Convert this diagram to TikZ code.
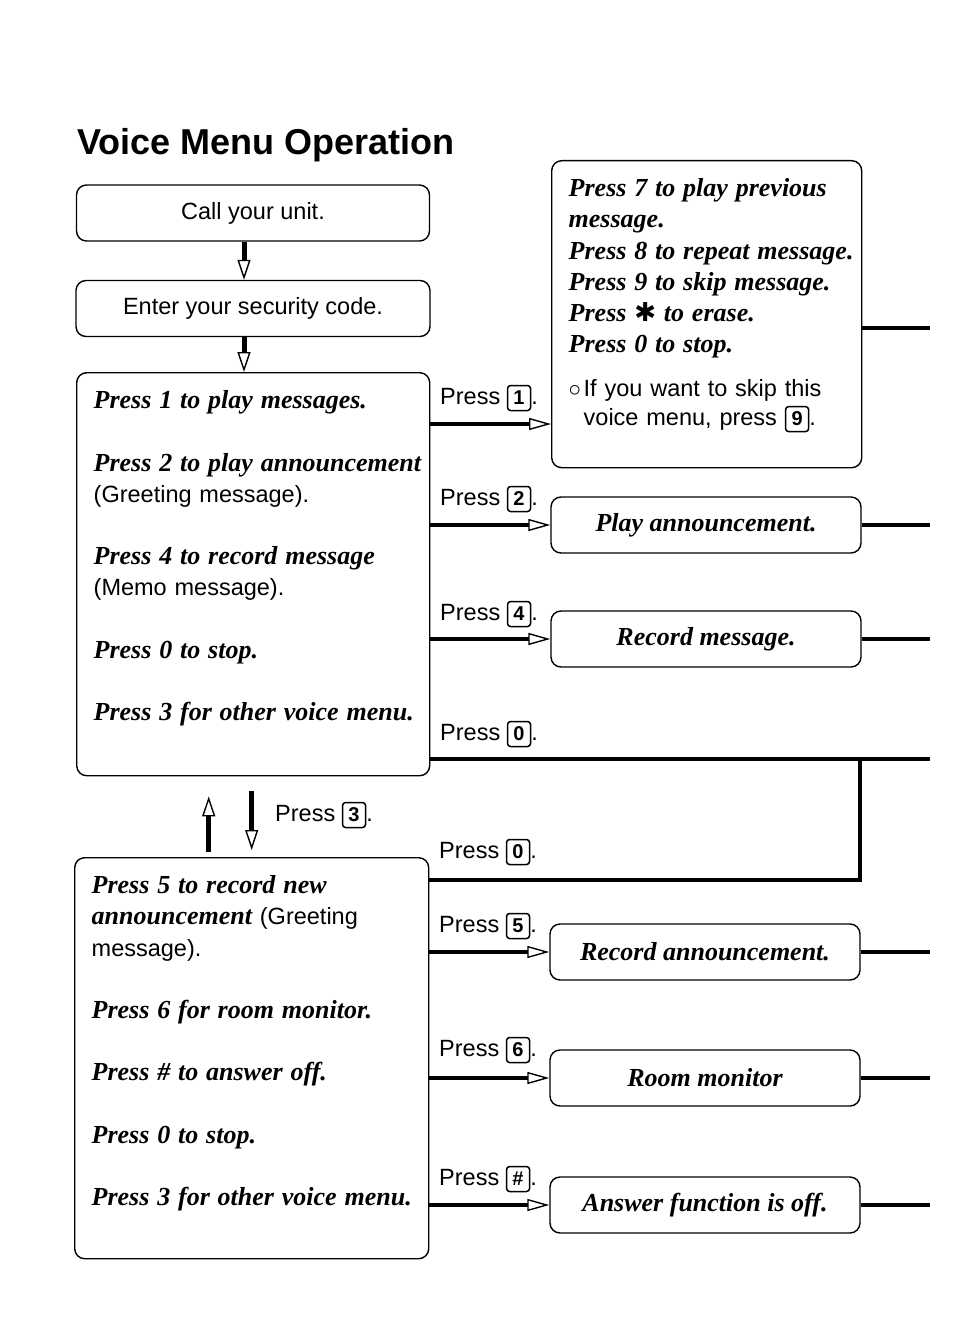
\documentclass[tikz,border=0pt]{standalone}
\usepackage{fontspec}
\setmainfont{Liberation Serif}
\setsansfont{Liberation Sans}
\newfontfamily\symfont{DejaVu Sans}
\usetikzlibrary{positioning,arrows.meta}
\newcommand{\bi}[1]{{\rmfamily\bfseries\itshape\fontsize{26}{31.2}\selectfont #1}}
\newcommand{\keycap}[1]{\tikz[baseline=(kc.base)]\node[draw, line width=1.5pt, rounded corners=3pt, text width={}, text height=15pt, text depth=3pt, inner xsep=3pt, inner ysep=3.5pt, minimum width=23pt, font=\sffamily\bfseries\fontsize{20}{20}\selectfont] (kc) {#1};}
\tikzset{
  flowbox/.style={draw, line width=1.4pt, rounded corners=10pt, minimum height=56pt, font=\sffamily\fontsize{23.5}{28}\selectfont},
  actbox/.style={flowbox, minimum width=310pt},
  menubox/.style={draw, line width=1.4pt, rounded corners=10pt, anchor=north west, inner sep=0pt, align=left, font=\sffamily\fontsize{23.5}{31.2}\selectfont},
  lbl/.style={anchor=base west, inner sep=0pt, font=\sffamily\fontsize{23.5}{28}\selectfont},
  link/.style={line width=4pt},
  conn/.style={line width=4pt, -{Triangle[open, length=22pt, width=12pt, line width=1.4pt]}},
  vconn/.style={line width=5pt, -{Triangle[open, length=20pt, width=13pt, line width=1.4pt]}}}
\begin{document}
\begin{tikzpicture}[x=1pt, y=1pt]
\useasboundingbox (0,0) rectangle (955,-1321);
\node[anchor=base west, inner sep=0pt, font=\sffamily\bfseries\fontsize{36}{40}\selectfont] (title) at (77,-155) {Voice Menu Operation};
\node[flowbox, minimum width=353pt] (call) at (253,-213) {Call your unit.};
\node[flowbox, minimum width=354pt] (code) at (253,-308.5) {Enter your security code.};
\node[menubox, text width=353pt, text height=36pt, text depth=367pt] (menuA) at (76,-372) {\leftskip=17pt
\bi{Press 1 to play messages.}\\[31.2pt]
\bi{Press 2 to play announcement}\\
(Greeting message).\\[31.2pt]
\bi{Press 4 to record message}\\
(Memo message).\\[31.2pt]
\bi{Press 0 to stop.}\\[31.2pt]
\bi{Press 3 for other voice menu.}\par};
\node[menubox, text width=310pt, text height=36pt, text depth=271pt] (extra) at (551,-160) {\leftskip=17pt
\bi{Press 7 to play previous}\\
\bi{message.}\\
\bi{Press 8 to repeat message.}\\
\bi{Press 9 to skip message.}\\
\bi{Press {\symfont\mdseries\upshape ✱} to erase.}\\
\bi{Press 0 to stop.}\\[13pt]
\makebox[15pt][l]{$\circ$}If you want to skip this\\[-3pt]
\hspace*{15pt}voice menu, press \keycap{9}.\par};
\node[actbox] (play) at (706,-525) {\bi{Play announcement.}};
\node[actbox] (recmsg) at (706,-639) {\bi{Record message.}};
\node[menubox, text width=354pt, text height=36pt, text depth=365pt] (menuB) at (74,-857) {\leftskip=17pt
\bi{Press 5 to record new}\\
\bi{announcement} (Greeting\\
message).\\[31.2pt]
\bi{Press 6 for room monitor.}\\[31.2pt]
\bi{Press \# to answer off.}\\[31.2pt]
\bi{Press 0 to stop.}\\[31.2pt]
\bi{Press 3 for other voice menu.}\par};
\node[actbox] (recann) at (705,-952) {\bi{Record announcement.}};
\node[actbox] (room) at (705,-1078) {\bi{Room monitor}};
\node[actbox] (off) at (705,-1205) {\bi{Answer function is off.}};
\node[lbl] (p1) at (440,-404) {Press \keycap{1}.};
\node[lbl] (p2) at (440,-505) {Press \keycap{2}.};
\node[lbl] (p4) at (440,-620) {Press \keycap{4}.};
\node[lbl] (p0a) at (440,-740) {Press \keycap{0}.};
\node[lbl] (p3) at (275,-821) {Press \keycap{3}.};
\node[lbl] (p0b) at (439,-858) {Press \keycap{0}.};
\node[lbl] (p5) at (439,-932) {Press \keycap{5}.};
\node[lbl] (p6) at (439,-1056) {Press \keycap{6}.};
\node[lbl] (ph) at (439,-1185) {Press \keycap{\#}.};
\coordinate (r1) at (930,-328);
\coordinate (j0) at (860,-759);
\draw[vconn] ([xshift=-9pt]call.south) -- ([xshift=-9pt]call.south |- code.north);
\draw[vconn] ([xshift=-9pt]code.south) -- ([xshift=-9pt]code.south |- menuA.north);
\draw[vconn, shorten <=5pt, shorten >=20pt] ([xshift=-43pt]menuB.north) -- ([xshift=-43pt]menuB.north |- menuA.south);
\draw[vconn, shorten <=15pt, shorten >=7pt] (menuB.north |- menuA.south) -- (menuB.north);
\draw[conn] (menuA.east |- 0,-424) -- (extra.west |- 0,-424);
\draw[conn] (menuA.east |- play.west) -- (play.west);
\draw[conn] (menuA.east |- recmsg.west) -- (recmsg.west);
\draw[conn] (menuB.east |- recann.west) -- (recann.west);
\draw[conn] (menuB.east |- room.west) -- (room.west);
\draw[conn] (menuB.east |- off.west) -- (off.west);
\draw[link] (extra.east |- r1) -- (r1);
\draw[link] (play.east) -- (play.east -| r1);
\draw[link] (recmsg.east) -- (recmsg.east -| r1);
\draw[link] (recann.east) -- (recann.east -| r1);
\draw[link] (room.east) -- (room.east -| r1);
\draw[link] (off.east) -- (off.east -| r1);
\draw[link] (menuA.east |- j0) -- (j0 -| r1);
\draw[link] (menuB.east |- 0,-880) -| (j0);
\end{tikzpicture}
\end{document}
